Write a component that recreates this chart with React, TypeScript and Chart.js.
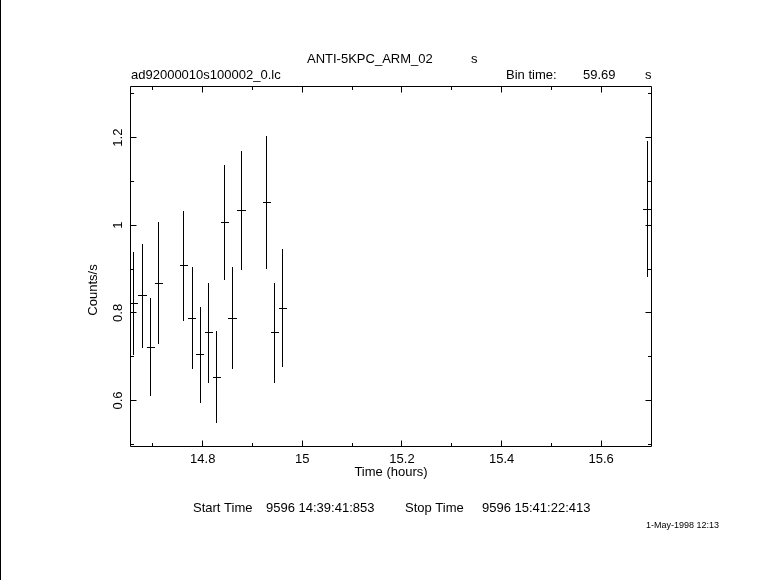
import React, { useEffect, useRef } from "react";
import { Chart, registerables } from "chart.js";

Chart.register(...registerables);

// Light-curve data (time in hours, rate in counts/s, 1-sigma error)
const timeHours = [
  14.661, 14.679, 14.696, 14.712, 14.762, 14.779, 14.795, 14.812,
  14.828, 14.844, 14.86, 14.878, 14.929, 14.945, 14.961, 15.693,
];
const countRate = [
  0.822, 0.839, 0.722, 0.868, 0.907, 0.788, 0.704, 0.754,
  0.653, 1.007, 0.788, 1.034, 1.051, 0.754, 0.811, 1.037,
];
const rateError = [
  0.118, 0.119, 0.111, 0.14, 0.125, 0.116, 0.109, 0.114,
  0.105, 0.131, 0.116, 0.136, 0.152, 0.114, 0.134, 0.155,
];
const binHalfWidth = 0.00829; // half of 59.69 s in hours

const xRange = [14.654, 15.701];
const yRange = [0.4949, 1.3178];
const xMajorTicks = [14.8, 15, 15.2, 15.4, 15.6];
const xTickLabels = ["14.8", "15", "15.2", "15.4", "15.6"];
const xMinorTicks = [14.7, 14.9, 15.1, 15.3, 15.5];
const yMajorTicks = [0.6, 0.8, 1, 1.2];
const yTickLabels = ["0.6", "0.8", "1", "1.2"];
const yMinorTicks = [0.5, 0.7, 0.9, 1.1, 1.3];

const FONT = '"Liberation Sans", Arial, sans-serif';

const snap = (v: number) => Math.floor(v) + 0.5;

const qdpPlugin = {
  id: "qdpPlugin",
  afterDraw(chart: any) {
    const ctx: CanvasRenderingContext2D = chart.ctx;
    const xs = chart.scales.x;
    const ys = chart.scales.y;
    const { left, right, top, bottom } = chart.chartArea;
    const L = snap(left), R = snap(right), T = snap(top), B = snap(bottom);
    ctx.save();
    ctx.fillStyle = "#000";
    ctx.strokeStyle = "#000";
    ctx.lineWidth = 1;

    // window edge line
    ctx.fillRect(0, 0, 1, chart.height);

    // frame
    ctx.beginPath();
    ctx.rect(L, T, R - L, B - T);
    ctx.stroke();

    const major = 6;
    const minor = 3.5;
    ctx.beginPath();
    const xt = (vals: number[], len: number) => {
      vals.forEach((v) => {
        const p = snap(xs.getPixelForValue(v));
        ctx.moveTo(p, B);
        ctx.lineTo(p, B - len);
        ctx.moveTo(p, T);
        ctx.lineTo(p, T + len);
      });
    };
    const yt = (vals: number[], len: number) => {
      vals.forEach((v) => {
        const p = snap(ys.getPixelForValue(v));
        ctx.moveTo(L, p);
        ctx.lineTo(L + len, p);
        ctx.moveTo(R, p);
        ctx.lineTo(R - len, p);
      });
    };
    xt(xMajorTicks, major);
    xt(xMinorTicks, minor);
    yt(yMajorTicks, major);
    yt(yMinorTicks, minor);
    ctx.stroke();

    // error bars
    ctx.save();
    ctx.beginPath();
    ctx.rect(left, top, right - left, bottom - top);
    ctx.clip();
    ctx.beginPath();
    const data = chart.data.datasets[0].data;
    data.forEach((d: any, i: number) => {
      const px = snap(xs.getPixelForValue(d.x));
      const py = snap(ys.getPixelForValue(d.y));
      const x0 = xs.getPixelForValue(d.x - binHalfWidth);
      const x1 = xs.getPixelForValue(d.x + binHalfWidth);
      const y0 = ys.getPixelForValue(d.y - rateError[i]);
      const y1 = ys.getPixelForValue(d.y + rateError[i]);
      ctx.moveTo(Math.round(x0), py);
      ctx.lineTo(Math.round(x1), py);
      ctx.moveTo(px, Math.round(y0));
      ctx.lineTo(px, Math.round(y1));
    });
    ctx.stroke();
    ctx.restore();

    // texts
    ctx.font = `13px ${FONT}`;
    ctx.textBaseline = "middle";
    ctx.textAlign = "center";
    xMajorTicks.forEach((v, i) => {
      ctx.fillText(xTickLabels[i], xs.getPixelForValue(v), 459);
    });
    ctx.fillText("Time (hours)", 391, 472);

    yMajorTicks.forEach((v, i) => {
      ctx.save();
      ctx.translate(118, ys.getPixelForValue(v));
      ctx.rotate(-Math.PI / 2);
      ctx.fillText(yTickLabels[i], 0, 0);
      ctx.restore();
    });
    ctx.save();
    ctx.translate(93, 290);
    ctx.rotate(-Math.PI / 2);
    ctx.fillText("Counts/s", 0, 0);
    ctx.restore();

    ctx.textAlign = "left";
    ctx.fillText("ANTI-5KPC_ARM_02", 307, 59);
    ctx.fillText("s", 471, 59);
    ctx.fillText("ad92000010s100002_0.lc", 131, 75);
    ctx.fillText("Bin time:", 506, 75);
    ctx.fillText("59.69", 583, 75);
    ctx.fillText("s", 645, 75);

    ctx.fillText("Start Time", 193, 508);
    ctx.fillText("9596 14:39:41:853", 266, 508);
    ctx.fillText("Stop Time", 405, 508);
    ctx.fillText("9596 15:41:22:413", 482, 508);

    ctx.font = `9px ${FONT}`;
    ctx.fillText("1-May-1998 12:13", 646, 526);
    ctx.restore();
  },
};

export default function App() {
  const canvasRef = useRef<HTMLCanvasElement | null>(null);

  useEffect(() => {
    if (!canvasRef.current) return;
    const points = timeHours.map((t, i) => ({ x: t, y: countRate[i] }));
    const chart = new Chart(canvasRef.current, {
      type: "scatter",
      data: {
        datasets: [
          {
            label: "rate",
            data: points,
            pointRadius: 0,
            showLine: false,
            borderColor: "#000",
            backgroundColor: "#000",
          },
        ],
      },
      options: {
        responsive: false,
        animation: false,
        devicePixelRatio: 1,
        layout: { padding: { left: 130, right: 129.5, top: 86, bottom: 133.5 } },
        scales: {
          x: { type: "linear", min: xRange[0], max: xRange[1], display: false },
          y: { type: "linear", min: yRange[0], max: yRange[1], display: false },
        },
        plugins: {
          legend: { display: false },
          tooltip: { enabled: false },
          title: { display: false },
        },
      },
      plugins: [qdpPlugin],
    });
    return () => chart.destroy();
  }, []);

  return (
    <div
      style={{
        position: "fixed",
        left: 0,
        top: 0,
        width: 781,
        height: 580,
        background: "#fff",
      }}
    >
      <canvas ref={canvasRef} width={781} height={580} />
    </div>
  );
}
